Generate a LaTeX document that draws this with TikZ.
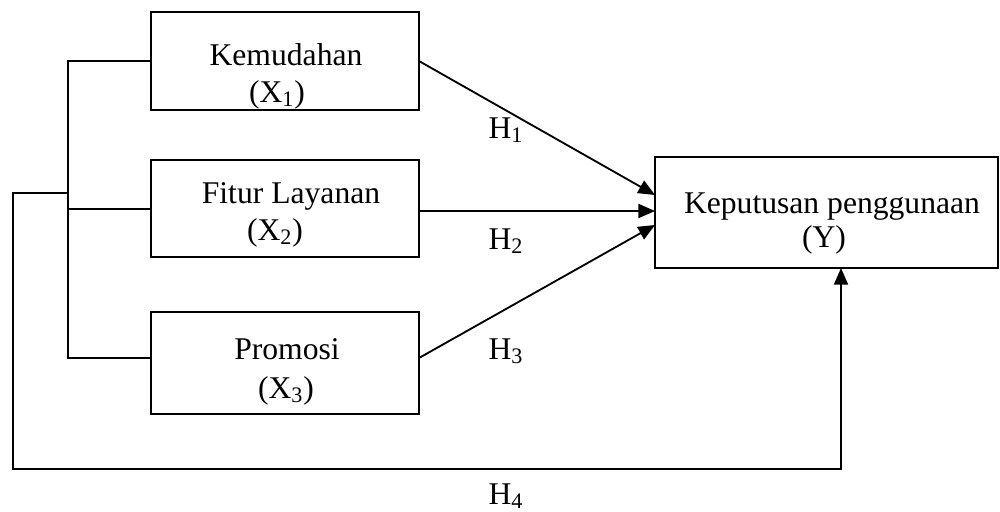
\documentclass[tikz,border=0pt]{standalone}
\usepackage{fontspec}
\setmainfont{Liberation Serif}
\usetikzlibrary{arrows.meta}
\begin{document}
\begin{tikzpicture}[x=0.02cm,y=-0.02cm,
  font=\fontsize{18}{22}\selectfont,
  box/.style={draw,line width=1.3pt,rectangle,inner sep=0pt,outer sep=0pt},
  lbl/.style={inner sep=0pt,anchor=base},
  conn/.style={line width=1.05pt},
  arr/.style={conn,-{Triangle[length=9.5pt,width=8pt]}}]
\useasboundingbox (0,0) rectangle (1000,511);
% boxes
\node[box,minimum width=5.36cm,minimum height=1.96cm] (x1) at (285,61) {};
\node[box,minimum width=5.36cm,minimum height=1.94cm] (x2) at (285,208.5) {};
\node[box,minimum width=5.36cm,minimum height=2.04cm] (x3) at (285,363) {};
\node[box,minimum width=6.86cm,minimum height=2.22cm] (y) at (826.5,212.5) {};
% texts
\node[lbl] (t1a) at (286,65) {Kemudahan};
\node[lbl] (t1b) at (277,102) {(X\textsubscript{1})};
\node[lbl] (t2a) at (291,203) {Fitur Layanan};
\node[lbl] (t2b) at (275,240) {(X\textsubscript{2})};
\node[lbl] (t3a) at (287,359) {Promosi};
\node[lbl] (t3b) at (286,398) {(X\textsubscript{3})};
\node[lbl] (tya) at (832,213) {Keputusan penggunaan};
\node[lbl] (tyb) at (824,247) {(Y)};
\node[lbl] (h1) at (506,138) {H\textsubscript{1}};
\node[lbl] (h2) at (506,249) {H\textsubscript{2}};
\node[lbl] (h3) at (506,359) {H\textsubscript{3}};
\node[lbl] (h4) at (506,504) {H\textsubscript{4}};
% coordinates
\coordinate (b1) at (68,61);
\coordinate (b2) at (68,209);
\coordinate (b3) at (68,358);
\coordinate (bm) at (68,193);
\coordinate (o1) at (13,193);
\coordinate (o2) at (13,469);
\coordinate (o3) at (841,469);
\coordinate (s3) at (x3.east |- 0,358);
\coordinate (e1) at (y.west |- 0,195);
\coordinate (e2) at (y.west |- 0,211);
\coordinate (e3) at (y.west |- 0,225);
\coordinate (ys) at (y.south -| o3);
% left bracket
\draw[conn] (x1.west) -- (b1) -- (b3) -- (x3.west |- b3);
\draw[conn] (b2) -- (x2.west |- b2);
\draw[arr] (bm) -- (o1) -- (o2) -- (o3) -- (ys);
% hypothesis arrows
\draw[arr] (x1.east) -- (e1);
\draw[arr] (x2.east |- e2) -- (e2);
\draw[arr] (s3) -- (e3);
\end{tikzpicture}
\end{document}
